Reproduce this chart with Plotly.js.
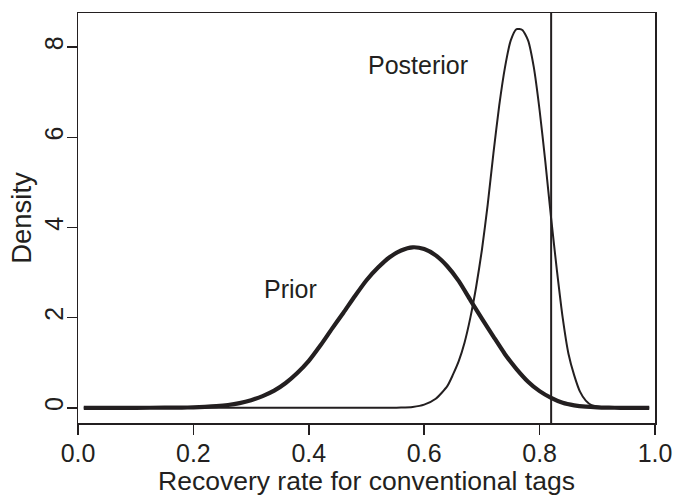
<!DOCTYPE html>
<html>
<head>
<meta charset="utf-8">
<script src="https://cdn.plot.ly/plotly-3.0.1.min.js"></script>
<style>html,body{margin:0;padding:0;background:#fff;}#chart{width:689px;height:500px;}</style>
</head>
<body>
<div id="chart"></div>
<script>
// Prior density
var priorX = [0.01,0.05,0.10,0.15,0.18,0.20,0.22,0.24,0.26,0.28,0.30,0.32,0.34,0.36,0.38,0.40,0.42,0.44,0.46,0.48,0.50,0.52,0.54,0.56,0.58,0.60,0.62,0.64,0.66,0.68,0.70,0.72,0.74,0.76,0.78,0.80,0.82,0.84,0.86,0.88,0.90,0.92,0.94,0.96,0.99];
var priorY = [0,0,0,0.002,0.005,0.01,0.02,0.036,0.062,0.105,0.17,0.26,0.38,0.55,0.77,1.04,1.38,1.75,2.11,2.48,2.83,3.11,3.34,3.49,3.56,3.52,3.38,3.14,2.81,2.39,1.98,1.58,1.19,0.86,0.58,0.37,0.22,0.11,0.055,0.025,0.01,0.003,0,0,0];

// Posterior density
var postX = [0.01,0.10,0.20,0.30,0.40,0.50,0.54,0.56,0.58,0.60,0.62,0.64,0.65,0.66,0.67,0.68,0.69,0.70,0.71,0.72,0.73,0.74,0.75,0.76,0.77,0.78,0.79,0.80,0.81,0.82,0.83,0.84,0.85,0.86,0.87,0.88,0.89,0.90,0.92,0.95,0.99];
var postY = [0,0,0,0,0,0,0,0.005,0.02,0.07,0.2,0.48,0.74,1.04,1.45,2.0,2.68,3.5,4.5,5.65,6.7,7.55,8.15,8.4,8.38,8.15,7.55,6.6,5.45,4.2,3.05,2.0,1.2,0.72,0.36,0.16,0.06,0.03,0.005,0,0];

var refLineX = 0.82;
var xTicks = [0,0.2,0.4,0.6,0.8,1.0];
var xTickText = ["0.0","0.2","0.4","0.6","0.8","1.0"];
var yTicks = [0,2,4,6,8];
var yTickText = ["0","2","4","6","8"];

var ink = '#231f20';
var fnt = 'Liberation Sans, Arial, Helvetica, sans-serif';

var traces = [
  {x: priorX, y: priorY, type: 'scatter', mode: 'lines', line: {color: ink, width: 4.2, shape: 'spline', smoothing: 0.6}, hoverinfo: 'skip'},
  {x: postX, y: postY, type: 'scatter', mode: 'lines', line: {color: ink, width: 2, shape: 'spline', smoothing: 0.6}, hoverinfo: 'skip'}
];

var layout = {
  width: 689, height: 500,
  margin: {l: 78, r: 34, t: 13, b: 77},
  paper_bgcolor: '#fff', plot_bgcolor: '#fff',
  showlegend: false,
  font: {family: fnt, size: 25, color: ink},
  xaxis: {
    range: [0, 1], tickvals: xTicks, ticktext: xTickText,
    ticks: 'outside', ticklen: 10, tickwidth: 1.5, tickcolor: ink,
    ticklabelstandoff: -3,
    showline: true, linecolor: ink, linewidth: 1.5, mirror: true,
    showgrid: false, zeroline: false,
    tickfont: {family: fnt, size: 25, color: ink},
    title: {text: 'Recovery rate for conventional tags', font: {family: fnt, size: 26.5, color: ink}, standoff: 6}
  },
  yaxis: {
    range: [-0.337, 8.757], tickvals: yTicks, ticktext: yTickText,
    ticks: 'outside', ticklen: 10, tickwidth: 1.5, tickcolor: ink,
    ticklabelstandoff: -6,
    tickangle: -90,
    showline: true, linecolor: ink, linewidth: 1.5, mirror: true,
    showgrid: false, zeroline: false,
    tickfont: {family: fnt, size: 25, color: ink},
    title: {text: 'Density', font: {family: fnt, size: 27.5, color: ink}, standoff: 0}
  },
  shapes: [
    {type: 'line', xref: 'x', yref: 'paper', x0: refLineX, x1: refLineX, y0: 0, y1: 1, line: {color: ink, width: 2}}
  ],
  annotations: [
    {x: 0.369, y: 2.64, xref: 'x', yref: 'y', text: 'Prior', showarrow: false, font: {family: fnt, size: 25, color: ink}},
    {x: 0.589, y: 7.6, xref: 'x', yref: 'y', text: 'Posterior', showarrow: false, font: {family: fnt, size: 25, color: ink}}
  ]
};

Plotly.newPlot('chart', traces, layout, {displayModeBar: false, staticPlot: true});
</script>
</body>
</html>
